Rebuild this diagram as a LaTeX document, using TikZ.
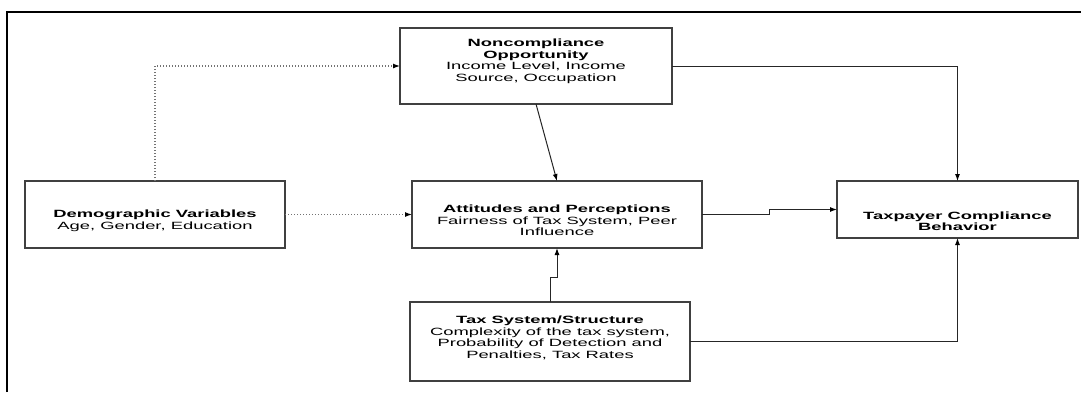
\documentclass[tikz,border=0pt]{standalone}
\usepackage{fontspec}
\setmainfont[FakeStretch=1.75]{Liberation Sans}
\usetikzlibrary{arrows.meta}
\begin{document}
\begin{tikzpicture}[x=1pt,y=-1pt,
  box/.style={draw=black!75, line width=1.4pt, inner sep=0pt, outer sep=0pt, fill=white},
  txt/.style={align=center, font=\fontsize{10.5}{11.5}\selectfont, inner sep=0pt},
  link/.style={draw=black!85, line width=1pt, -{Latex[length=7pt,width=5pt,black]}},
  dotlink/.style={link, draw=black!55, dotted, line width=1.2pt}]
\useasboundingbox (0,0) rectangle (1081,392);

% outer frame (top and left rules only)
\draw[line width=2pt] (7,392) -- (7,12) -- (1081,12);

% boxes
\node[box, minimum width=272pt, minimum height=76pt] (opp) at (536,66) {};
\node[box, minimum width=260pt, minimum height=67pt] (dem) at (155,214.5) {};
\node[box, minimum width=290pt, minimum height=67pt] (att) at (557,214.5) {};
\node[box, minimum width=241pt, minimum height=57pt] (beh) at (957.5,209.5) {};
\node[box, minimum width=280pt, minimum height=79pt] (tax) at (550,341.5) {};

% box texts
\node[txt] (oppt) at ([yshift=4.5pt]opp.center) {\textbf{Noncompliance}\\\textbf{Opportunity}\\Income Level, Income\\Source, Occupation};
\node[txt] (demt) at ([yshift=-6.5pt]dem.center) {\textbf{Demographic Variables}\\Age, Gender, Education};
\node[txt] (attt) at ([yshift=-6pt]att.center) {\textbf{Attitudes and Perceptions}\\Fairness of Tax System, Peer\\Influence};
\node[txt] (beht) at ([yshift=-11.5pt]beh.center) {\textbf{Taxpayer Compliance}\\\textbf{Behavior}};
\node[txt] (taxt) at ([yshift=3.5pt]tax.center) {\textbf{Tax System/Structure}\\Complexity of the tax system,\\Probability of Detection and\\Penalties, Tax Rates};

% connectors
\draw[dotlink] (dem.north) |- (opp.west);
\draw[dotlink] (dem.east) -- (att.west);
\draw[link] (opp.south) -- (att.north);
\draw[link] (opp.east) -| (beh.north);
\draw[link] (att.east) -- ++(67,0) |- (beh.west);
\draw[link] (tax.north) -- ++(0,-25) -| (att.south);
\draw[link] (tax.east) -| (beh.south);
\end{tikzpicture}
\end{document}
